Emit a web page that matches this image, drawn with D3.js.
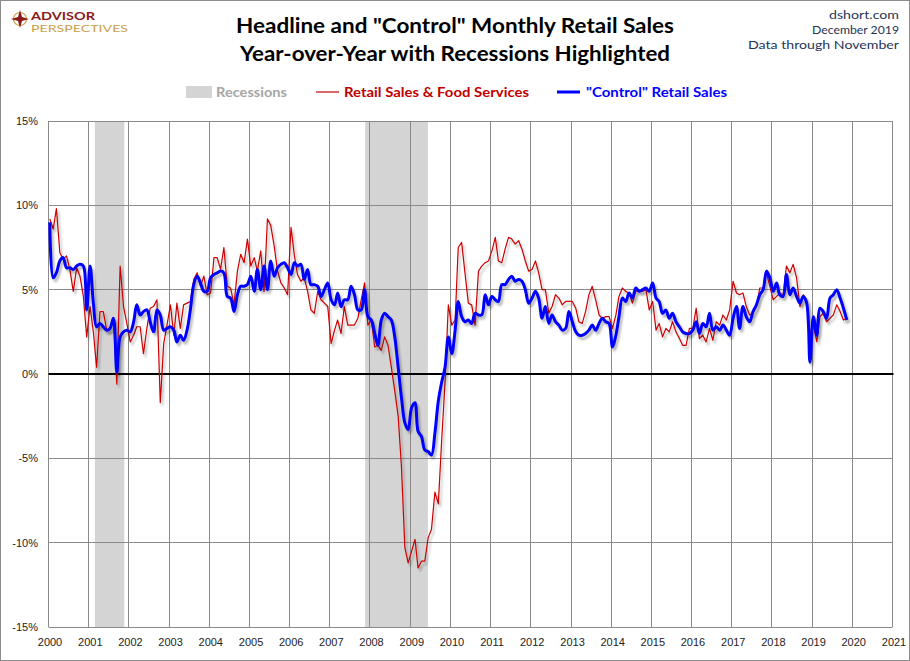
<!DOCTYPE html>
<html>
<head>
<meta charset="utf-8">
<script src="https://cdn.jsdelivr.net/npm/d3@7"></script>
<style>
  body { margin: 0; background: #fff; }
  svg { display: block; }
</style>
</head>
<body>
<svg id="chart"></svg>
<script>
var svgw = 910
var svgh = 661

// monthly YoY %, Jan 2000 .. Nov 2019
var retailSales = [
  9.2, 8.6, 9.8, 7.2, 6.8, 7.0, 6.2, 4.9, 6.3, 5.8, 4.6, 2.2,
  4.0, 2.4, 0.4, 3.7, 3.7, 2.6, 2.6, 3.3, -0.6, 6.4, 4.0, 3.0,
  1.9, 2.3, 2.8, 2.8, 1.2, 2.7, 3.9, 4.0, 4.4, -1.7, 1.8, 2.9,
  4.1, 2.3, 4.2, 2.7, 4.1, 4.2, 4.3, 5.6, 6.0, 5.2, 5.8, 4.7,
  4.8, 6.9, 6.9, 6.2, 7.5, 5.2, 5.1, 4.1, 6.1, 7.1, 6.6, 8.0,
  6.4, 6.9, 6.1, 7.3, 4.9, 9.2, 8.8, 7.6, 6.1, 5.4, 5.1, 4.7,
  8.7, 7.0, 5.9, 5.5, 5.7, 4.9, 3.8, 3.6, 4.9, 4.4, 4.2, 4.0,
  1.8, 2.6, 3.2, 2.4, 4.0, 2.9, 2.9, 2.9, 3.3, 4.4, 5.4, 2.9,
  3.2, 1.6, 1.7, 1.4, 2.2, 1.7, 0.4, -1.0, -2.5, -5.5, -10.3, -11.2,
  -10.5, -9.8, -11.5, -11.1, -11.1, -9.7, -9.2, -7.0, -7.7, -4.0, -0.5, 4.1,
  2.9, 3.2, 7.5, 7.8, 6.0, 4.2, 4.1, 2.9, 6.1, 6.4, 6.6, 6.7,
  7.3, 8.1, 6.7, 6.6, 7.4, 8.1, 8.0, 7.7, 7.9, 7.4, 6.7, 6.1,
  6.2, 6.7, 6.0, 5.0, 5.0, 3.6, 4.0, 4.7, 4.5, 4.1, 4.3, 4.3,
  4.3, 3.9, 3.1, 3.0, 3.7, 4.7, 5.2, 4.4, 3.5, 3.3, 3.4, 3.4,
  2.7, 3.5, 4.6, 5.1, 4.9, 4.8, 4.2, 4.9, 5.0, 4.9, 5.0, 3.8,
  4.3, 2.6, 3.0, 2.2, 2.7, 2.5, 3.1, 2.5, 2.1, 1.7, 1.7, 2.7,
  2.7, 3.9, 2.1, 2.3, 1.9, 2.7, 2.0, 3.1, 2.9, 3.5, 3.2, 3.8,
  5.5, 4.8, 4.7, 4.8, 4.0, 3.5, 3.6, 4.0, 5.1, 5.1, 6.0, 5.2,
  4.4, 4.6, 4.8, 4.7, 6.4, 6.0, 6.5, 5.7, 4.0, 4.7, 4.4, 2.4,
  2.9, 1.9, 3.4, 3.6, 3.1, 3.3, 3.5, 4.1, 3.7, 3.2, 3.3
]

var controlSales = [
  9.0, 5.7, 6.0, 6.7, 6.9, 6.3, 6.3, 6.2, 6.4, 6.5, 6.4, 3.8,
  6.4, 4.1, 2.8, 3.0, 2.8, 2.6, 2.7, 3.3, 0.1, 2.2, 2.5, 2.6,
  2.5, 3.1, 4.1, 3.5, 3.7, 3.8, 3.1, 2.5, 3.8, 3.5, 2.6, 2.7,
  2.8, 2.6, 1.9, 2.3, 2.0, 2.6, 3.8, 5.3, 5.8, 5.4, 4.9, 4.9,
  5.7, 5.9, 6.0, 6.1, 6.0, 4.6, 4.5, 3.7, 4.7, 5.2, 5.2, 5.3,
  5.8, 4.9, 6.2, 5.0, 6.4, 5.0, 6.7, 5.8, 6.3, 6.5, 6.6, 6.3,
  5.9, 6.6, 6.4, 6.5, 5.6, 6.2, 5.3, 5.3, 5.2, 4.6, 5.0, 5.4,
  4.4, 4.1, 4.8, 4.0, 4.4, 4.4, 5.2, 4.7, 3.8, 3.8, 5.0, 3.4,
  3.2, 2.4, 1.7, 3.2, 3.6, 3.4, 3.2, 2.2, 0.4, -1.4, -2.9, -3.3,
  -2.0, -1.7, -3.4, -3.7, -4.5, -4.6, -4.8, -3.5, -1.6, -0.5, 0.4, 2.2,
  1.2, 2.6, 4.3, 3.4, 3.1, 3.2, 3.0, 3.6, 3.5, 3.5, 4.7, 4.1,
  4.6, 4.4, 4.3, 5.3, 5.3, 5.6, 5.8, 5.5, 5.6, 5.5, 5.0, 4.2,
  4.5, 4.9, 4.5, 3.3, 4.0, 3.0, 3.5, 3.1, 2.9, 2.6, 2.7, 3.7,
  3.1, 2.5, 2.3, 2.3, 2.4, 2.6, 2.9, 2.6, 3.0, 3.3, 3.1, 3.0,
  1.6, 2.3, 3.4, 4.5, 4.3, 4.8, 4.5, 5.1, 4.9, 5.0, 5.1, 4.9,
  5.4, 4.5, 4.3, 3.6, 3.8, 3.3, 3.6, 3.1, 2.8, 2.5, 2.4, 2.4,
  2.6, 3.1, 2.4, 3.0, 2.8, 3.6, 2.6, 2.8, 2.6, 2.9, 2.6, 2.3,
  3.3, 4.0, 2.7, 4.0, 3.4, 3.1, 3.7, 4.1, 4.7, 5.0, 6.1, 5.7,
  4.9, 5.4, 4.7, 4.6, 5.9, 4.7, 5.1, 4.6, 4.2, 4.6, 4.2, 0.7,
  3.4, 2.3, 3.9, 3.7, 3.3, 4.5, 4.7, 5.0, 4.5, 3.9, 3.2
]

var recessions = [
  ["2001-02-25", "2001-11-20"],
  ["2007-11-18", "2009-06-10"]
]

var yTicks = [-15, -10, -5, 0, 5, 10, 15]
var xYears = d3.range(2000, 2022)

var legendItems = [
  {name: "Recessions", kind: "band"},
  {name: "Retail Sales & Food Services", kind: "red"},
  {name: "\"Control\" Retail Sales", kind: "blue"}
]

var parseDay = d3.timeParse("%Y-%m-%d")
var monthDate = function(i)
{
    return d3.timeDay.offset(d3.timeMonth.offset(new Date(2000, 0, 1), i), 12)
}

var svg = d3.select("#chart")
    .attr("width", svgw)
    .attr("height", svgh)

var defs = svg.append("defs")
var shadow = defs.append("filter")
    .attr("id", "shadow")
    .attr("x", "-5%").attr("y", "-5%")
    .attr("width", "110%").attr("height", "110%")
shadow.append("feDropShadow")
    .attr("dx", 2).attr("dy", 3)
    .attr("stdDeviation", 1.3)
    .attr("flood-color", "#000")
    .attr("flood-opacity", 0.28)

// outer frame
svg.append("rect")
    .attr("x", 0.5).attr("y", 0.5)
    .attr("width", svgw - 1).attr("height", svgh - 1)
    .attr("fill", "#fff")
    .attr("stroke", "#8c8c8c")

var xscale = d3.scaleTime()
    .domain([new Date(2000, 0, 1), new Date(2021, 0, 1)])
    .range([48.5, 892.5])

var yscale = d3.scaleLinear()
    .domain([-15, 15])
    .range([627, 121])

var crisp = function(v) { return Math.round(v - 0.5) + 0.5 }

// recession bands
svg.append("g").selectAll("rect")
    .data(recessions)
    .enter()
    .append("rect")
    .attr("x", function(d) { return xscale(parseDay(d[0])) })
    .attr("width", function(d) { return xscale(parseDay(d[1])) - xscale(parseDay(d[0])) })
    .attr("y", yscale(15))
    .attr("height", yscale(-15) - yscale(15))
    .attr("fill", "#d4d4d4")

// gridlines
var grid = svg.append("g")
grid.selectAll("line.v")
    .data(xYears)
    .enter()
    .append("line")
    .attr("x1", function(d) { return crisp(xscale(new Date(d, 0, 1))) })
    .attr("x2", function(d) { return crisp(xscale(new Date(d, 0, 1))) })
    .attr("y1", yscale(15))
    .attr("y2", yscale(-15))
    .attr("stroke", "#8a8a8a")
    .attr("stroke-width", 1)

grid.selectAll("line.h")
    .data(yTicks.filter(function(d) { return d != 0 }))
    .enter()
    .append("line")
    .attr("x1", xscale(new Date(2000, 0, 1)))
    .attr("x2", xscale(new Date(2021, 0, 1)))
    .attr("y1", function(d) { return crisp(yscale(d)) })
    .attr("y2", function(d) { return crisp(yscale(d)) })
    .attr("stroke", "#8a8a8a")
    .attr("stroke-width", 1)

// zero line
svg.append("line")
    .attr("x1", xscale(new Date(2000, 0, 1)))
    .attr("x2", xscale(new Date(2021, 0, 1)) + 1)
    .attr("y1", yscale(0))
    .attr("y2", yscale(0))
    .attr("stroke", "#000")
    .attr("stroke-width", 2.2)

// axes labels
var yAxis = d3.axisLeft(yscale)
    .tickValues(yTicks)
    .tickSize(0)
    .tickPadding(0)
    .tickFormat(function(d) { return d + "%" })
var gy = svg.append("g")
    .attr("transform", "translate(38,0)")
    .call(yAxis)
gy.select(".domain").remove()
gy.selectAll("text")
    .attr("font-family", "Liberation Sans, Arial, sans-serif")
    .attr("font-size", 11)
    .attr("fill", "#222")

var xAxis = d3.axisBottom(xscale)
    .tickValues(xYears.map(function(y) { return new Date(y, 0, 1) }))
    .tickSize(0)
    .tickPadding(0)
    .tickFormat(d3.timeFormat("%Y"))
var gx = svg.append("g")
    .attr("transform", "translate(1,638)")
    .call(xAxis)
gx.select(".domain").remove()
gx.selectAll("text")
    .attr("font-family", "Liberation Sans, Arial, sans-serif")
    .attr("font-size", 11)
    .attr("fill", "#222")

// series
var redLine = d3.line()
    .x(function(d, i) { return xscale(monthDate(i)) })
    .y(function(d) { return yscale(d) })

var blueLine = d3.line()
    .x(function(d, i) { return xscale(monthDate(i)) })
    .y(function(d) { return yscale(d) })
    .curve(d3.curveCatmullRom.alpha(0.5))

svg.append("path")
    .datum(retailSales)
    .attr("d", redLine)
    .attr("fill", "none")
    .attr("stroke", "#cc0000")
    .attr("stroke-width", 1.2)
    .attr("stroke-linejoin", "round")
    .attr("filter", "url(#shadow)")

svg.append("path")
    .datum(controlSales)
    .attr("d", blueLine)
    .attr("fill", "none")
    .attr("stroke", "#0000ff")
    .attr("stroke-width", 3)
    .attr("stroke-linejoin", "round")
    .attr("filter", "url(#shadow)")

// titles
var titleFont = "Lato, Open Sans, sans-serif"
svg.append("text")
    .text("Headline and \"Control\" Monthly Retail Sales")
    .attr("x", 455).attr("y", 33)
    .attr("text-anchor", "middle")
    .attr("font-family", titleFont)
    .attr("font-weight", "bold")
    .attr("font-size", 21)
    .attr("textLength", 438)
    .attr("lengthAdjust", "spacingAndGlyphs")
    .attr("fill", "#000")

svg.append("text")
    .text("Year-over-Year with Recessions Highlighted")
    .attr("x", 455).attr("y", 61)
    .attr("text-anchor", "middle")
    .attr("font-family", titleFont)
    .attr("font-weight", "bold")
    .attr("font-size", 21)
    .attr("textLength", 430)
    .attr("lengthAdjust", "spacingAndGlyphs")
    .attr("fill", "#000")

var notes = ["dshort.com", "December 2019", "Data through November"]
var noteWidths = [70, 87, 151]
svg.append("g").selectAll("text")
    .data(notes)
    .enter()
    .append("text")
    .text(function(d) { return d })
    .attr("x", 899)
    .attr("y", function(d, i) { return 19 + i * 14.8 })
    .attr("text-anchor", "end")
    .attr("font-family", titleFont)
    .attr("font-size", 12)
    .attr("textLength", function(d, i) { return noteWidths[i] })
    .attr("lengthAdjust", "spacingAndGlyphs")
    .attr("fill", "#1f3556")

// logo
var logo = svg.append("g").attr("transform", "translate(20,19)")
logo.append("circle").attr("r", 6.5).attr("fill", "none").attr("stroke", "#c9a04a").attr("stroke-width", 1.2)
logo.append("path")
    .attr("d", "M0,-9 L2,-2 L9,0 L2,2 L0,9 L-2,2 L-9,0 L-2,-2 Z")
    .attr("fill", "#8b1a1a")
logo.append("circle").attr("r", 2).attr("fill", "#8b1a1a")
svg.append("text")
    .text("ADVISOR")
    .attr("x", 31).attr("y", 19.5)
    .attr("font-family", titleFont)
    .attr("font-weight", "bold")
    .attr("font-size", 11.5)
    .attr("textLength", 64)
    .attr("lengthAdjust", "spacingAndGlyphs")
    .attr("fill", "#8b1a1a")
svg.append("text")
    .text("PERSPECTIVES")
    .attr("x", 31).attr("y", 32)
    .attr("font-family", titleFont)
    .attr("font-size", 10)
    .attr("textLength", 97)
    .attr("lengthAdjust", "spacingAndGlyphs")
    .attr("fill", "#c9a04a")

// legend
var legendX = [186, 316, 557]
var legendText = [216, 344, 586]
var legendWidth = [71, 185, 141]
var legendColor = {band: "#a6a6a6", red: "#c00000", blue: "#0000ff"}
var legend = svg.append("g")
legendItems.forEach(function(item, i)
{
    if(item.kind == "band")
    {
        legend.append("rect")
            .attr("x", legendX[i]).attr("y", 86)
            .attr("width", 26).attr("height", 12)
            .attr("fill", "#d4d4d4")
    }
    else
    {
        legend.append("line")
            .attr("x1", legendX[i]).attr("x2", legendX[i] + 23)
            .attr("y1", 92).attr("y2", 92)
            .attr("stroke", item.kind == "red" ? "#cc0000" : "#0000ff")
            .attr("stroke-width", item.kind == "red" ? 1.2 : 3)
    }
    legend.append("text")
        .text(item.name)
        .attr("x", legendText[i]).attr("y", 97)
        .attr("font-family", titleFont)
        .attr("font-weight", "bold")
        .attr("font-size", 14)
        .attr("textLength", legendWidth[i])
        .attr("lengthAdjust", "spacingAndGlyphs")
        .attr("fill", legendColor[item.kind])
})
</script>
</body>
</html>
